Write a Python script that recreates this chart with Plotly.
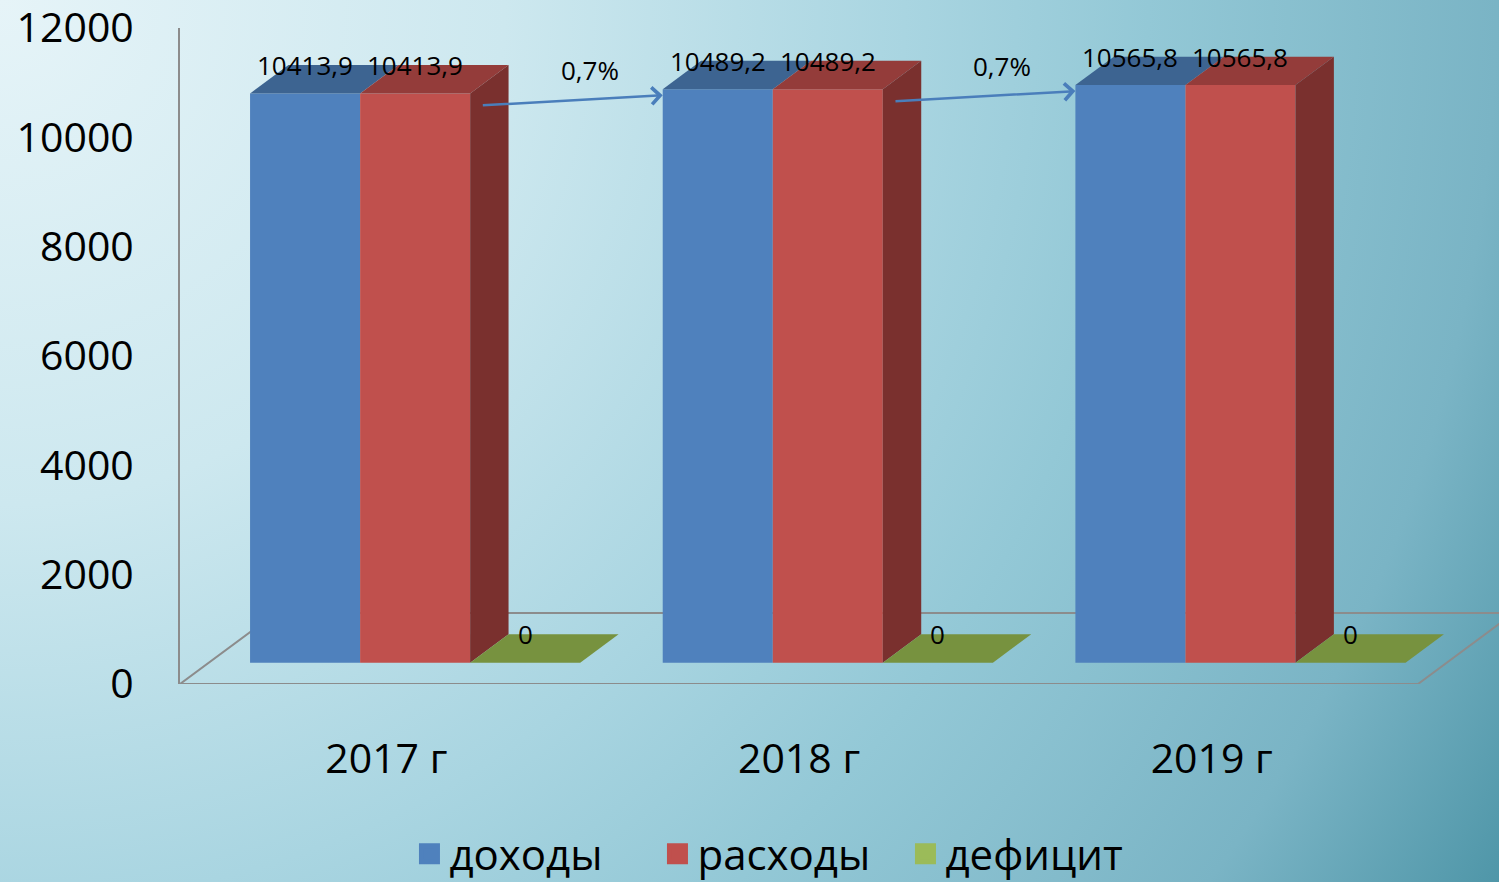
import base64
import plotly.graph_objects as go

# данные
years = ["2017 г", "2018 г", "2019 г"]
series_names = ["доходы", "расходы", "дефицит"]
dohody = [10413.9, 10489.2, 10565.8]
rashody = [10413.9, 10489.2, 10565.8]
deficit = [0, 0, 0]
y_ticks = [0, 2000, 4000, 6000, 8000, 10000, 12000]

series = [dohody, rashody, deficit]
front_colors = ["#4f81bd", "#c0504d", "#9bbb59"]
top_colors = ["#3d6491", "#943c3a", "#77923f"]
side_colors = ["#39598a", "#7a302e", "#5f7a2e"]

# псевдо-3D: вектор глубины в единицах осей
DX, DY = 0.2326, 1300
Z0, Z1 = 0.3, 0.7
DD = Z1 - Z0
BAR_W = 0.8 / 3
BASE = Z0 * DY
xs = list(range(len(years)))

W, H = 1499, 882
ML, MR, MT, MB = 180, 0, 28, 198
PW, PH = W - ML - MR, H - MT - MB
X_RANGE = [-0.5, -0.5 + PW / 412.67]


def fmt(v):
    return "0" if v == 0 else f"{v:.1f}".replace(".", ",")


fig = go.Figure()

# передние грани
for s, vals in enumerate(series):
    off = -0.4 + s * BAR_W + Z0 * DX
    fig.add_trace(go.Bar(
        x=xs, y=vals, base=BASE, width=BAR_W, offset=off,
        marker=dict(color=front_colors[s], line=dict(width=0)),
        showlegend=False, hoverinfo="skip"))

# верхние и боковые грани
for s, vals in enumerate(series):
    off = -0.4 + s * BAR_W + Z0 * DX
    for c, v in enumerate(vals):
        x0 = c + off
        x1 = x0 + BAR_W
        top = BASE + v
        fig.add_trace(go.Scatter(
            x=[x0, x1, x1 + DD * DX, x0 + DD * DX, x0],
            y=[top, top, top + DD * DY, top + DD * DY, top],
            fill="toself", fillcolor=top_colors[s], mode="lines",
            line=dict(width=0, color=top_colors[s]),
            showlegend=False, hoverinfo="skip"))
        nxt = series[s + 1][c] if s + 1 < len(series) else 0
        if nxt < v:
            bot = BASE + nxt
            fig.add_trace(go.Scatter(
                x=[x1, x1, x1 + DD * DX, x1 + DD * DX, x1],
                y=[bot, top, top + DD * DY, bot + DD * DY, bot],
                fill="toself", fillcolor=side_colors[s], mode="lines",
                line=dict(width=0, color=side_colors[s]),
                showlegend=False, hoverinfo="skip"))

# легенда
for s, name in enumerate(series_names):
    fig.add_trace(go.Scatter(
        x=[None], y=[None], mode="markers", name=name,
        marker=dict(symbol="square", size=16, color=front_colors[s],
                    line=dict(color=front_colors[s], width=5))))

annotations = []
# подписи значений
for s, vals in enumerate(series):
    off = -0.4 + s * BAR_W + Z0 * DX
    for c, v in enumerate(vals):
        annotations.append(dict(
            x=c + off + BAR_W / 2, y=BASE + v + DD * DY, text=fmt(v),
            showarrow=False, xanchor="center", yanchor="middle",
            font=dict(size=26, color="black")))

# стрелки роста
for c in range(len(years) - 1):
    tail_x = c - 0.4 + 2 * BAR_W + Z0 * DX + 0.027
    tail_y = BASE + rashody[c] - 220
    head_x = c + 1 - 0.4 + Z0 * DX
    head_y = BASE + dohody[c + 1] - 110
    annotations.append(dict(
        x=head_x, y=head_y, ax=tail_x, ay=tail_y, xref="x", yref="y",
        axref="x", ayref="y", text="", showarrow=True, arrowhead=4,
        arrowsize=1.3, arrowwidth=2.5, arrowcolor="#4a7ebb", standoff=0))
    pct = (dohody[c + 1] / dohody[c] - 1) * 100
    annotations.append(dict(
        x=(tail_x + head_x) / 2 + 0.043, y=(tail_y + head_y) / 2 + 550,
        text=f"{pct:.1f}%".replace(".", ","), showarrow=False,
        font=dict(size=26, color="black")))

# пол
fx = [-0.5, 2.5, 2.5 + DX, -0.5 + DX]
fy = [0, 0, DY, DY]
floor_path = "M{},{} L{},{} L{},{} L{},{} Z".format(
    fx[0], fy[0], fx[1], fy[1], fx[2], fy[2], fx[3], fy[3])

# фон: радиальный градиент
svg = (
    f"<svg xmlns='http://www.w3.org/2000/svg' width='{W}' height='{H}' "
    f"viewBox='0 0 {W} {H}' preserveAspectRatio='none'>"
    "<defs><radialGradient id='g' cx='0' cy='0' r='1740' "
    "gradientUnits='userSpaceOnUse'>"
    "<stop offset='0' stop-color='#e6f4f8'/>"
    "<stop offset='0.29' stop-color='#cde8ef'/>"
    "<stop offset='0.52' stop-color='#a9d5e1'/>"
    "<stop offset='0.66' stop-color='#93c8d6'/>"
    "<stop offset='0.86' stop-color='#7ab4c5'/>"
    "<stop offset='1' stop-color='#4f96a8'/>"
    "</radialGradient></defs>"
    f"<rect width='{W}' height='{H}' fill='url(#g)'/></svg>")
bg_src = "data:image/svg+xml;base64," + base64.b64encode(svg.encode()).decode()

fig.update_layout(
    width=W, height=H,
    margin=dict(l=ML, r=MR, t=MT, b=MB, pad=0, autoexpand=False),
    barmode="overlay",
    paper_bgcolor="#a9d5e1", plot_bgcolor="rgba(0,0,0,0)",
    font=dict(family="Open Sans", color="black"),
    xaxis=dict(range=X_RANGE, tickvals=xs, ticktext=years,
               showgrid=False, zeroline=False, showline=False,
               ticks="", ticklabelstandoff=47,
               tickfont=dict(size=41)),
    yaxis=dict(range=[0, 12000.5], tickvals=y_ticks, tickformat="d",
               showgrid=False, zeroline=False, showline=True,
               linecolor="#8c8c8c", linewidth=2, ticks="",
               ticklabelstandoff=36, ticklabeloverflow="allow",
               tickfont=dict(size=41)),
    legend=dict(orientation="h", x=0.456, xanchor="center",
                y=-0.259, yanchor="middle", font=dict(size=42),
                entrywidth=203, bgcolor="rgba(0,0,0,0)"),
    annotations=annotations,
    shapes=[dict(type="path", path=floor_path, xref="x", yref="y",
                 line=dict(color="#8c8c8c", width=2), layer="below")],
    images=[dict(source=bg_src, xref="paper", yref="paper",
                 x=-ML / PW, y=1 + MT / PH, sizex=W / PW, sizey=H / PH,
                 xanchor="left", yanchor="top", sizing="stretch",
                 layer="below")],
)

fig.write_html("out.html", config={"displayModeBar": False},
               post_script="document.body.style.margin='0';")
